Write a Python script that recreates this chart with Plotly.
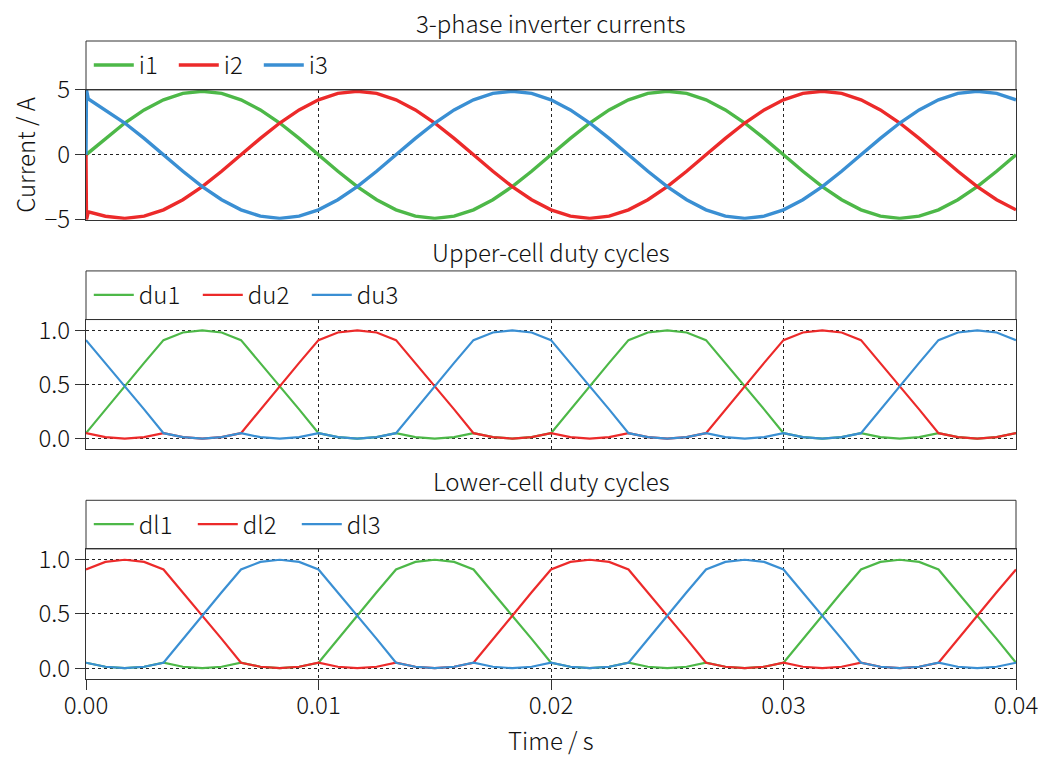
import plotly.graph_objects as go

# ---------------- data ----------------
# duty-cycle sampling grid: 1/1200 s steps over 0 .. 0.04 s
t_duty = [k / 1200 for k in range(49)]

# current samples (first points capture the start-up spike)
t_cur = [0.0, 0.00002, 0.0001] + [k / 1200 for k in range(1, 49)]

i1 = [0.0, 0.03, 0.15,
      1.27, 2.45, 3.46, 4.24, 4.73, 4.9, 4.73, 4.24, 3.46, 2.45, 1.27, 0.0,
      -1.27, -2.45, -3.46, -4.24, -4.73, -4.9, -4.73, -4.24, -3.46, -2.45, -1.27, 0.0,
      1.27, 2.45, 3.46, 4.24, 4.73, 4.9, 4.73, 4.24, 3.46, 2.45, 1.27, 0.0,
      -1.27, -2.45, -3.46, -4.24, -4.73, -4.9, -4.73, -4.24, -3.46, -2.45, -1.27, 0.0]
i2 = [0.0, -5.0, -4.4,
      -4.73, -4.9, -4.73, -4.24, -3.46, -2.45, -1.27, 0.0, 1.27, 2.45, 3.46, 4.24,
      4.73, 4.9, 4.73, 4.24, 3.46, 2.45, 1.27, 0.0, -1.27, -2.45, -3.46, -4.24,
      -4.73, -4.9, -4.73, -4.24, -3.46, -2.45, -1.27, 0.0, 1.27, 2.45, 3.46, 4.24,
      4.73, 4.9, 4.73, 4.24, 3.46, 2.45, 1.27, 0.0, -1.27, -2.45, -3.46, -4.24]
i3 = [0.0, 5.0, 4.3,
      3.46, 2.45, 1.27, 0.0, -1.27, -2.45, -3.46, -4.24, -4.73, -4.9, -4.73, -4.24,
      -3.46, -2.45, -1.27, 0.0, 1.27, 2.45, 3.46, 4.24, 4.73, 4.9, 4.73, 4.24,
      3.46, 2.45, 1.27, 0.0, -1.27, -2.45, -3.46, -4.24, -4.73, -4.9, -4.73, -4.24,
      -3.46, -2.45, -1.27, 0.0, 1.27, 2.45, 3.46, 4.24, 4.73, 4.9, 4.73, 4.24]

du1 = [0.05, 0.27, 0.49, 0.70, 0.91, 0.98, 1.0, 0.98, 0.91, 0.70, 0.49, 0.27,
       0.05, 0.013, 0.0, 0.013, 0.05, 0.013, 0.0, 0.013, 0.05, 0.013, 0.0, 0.013,
       0.05, 0.27, 0.49, 0.70, 0.91, 0.98, 1.0, 0.98, 0.91, 0.70, 0.49, 0.27,
       0.05, 0.013, 0.0, 0.013, 0.05, 0.013, 0.0, 0.013, 0.05, 0.013, 0.0, 0.013,
       0.05]
du2 = [0.05, 0.013, 0.0, 0.013, 0.05, 0.013, 0.0, 0.013, 0.05, 0.27, 0.49, 0.70,
       0.91, 0.98, 1.0, 0.98, 0.91, 0.70, 0.49, 0.27, 0.05, 0.013, 0.0, 0.013,
       0.05, 0.013, 0.0, 0.013, 0.05, 0.013, 0.0, 0.013, 0.05, 0.27, 0.49, 0.70,
       0.91, 0.98, 1.0, 0.98, 0.91, 0.70, 0.49, 0.27, 0.05, 0.013, 0.0, 0.013,
       0.05]
du3 = [0.91, 0.70, 0.49, 0.27, 0.05, 0.013, 0.0, 0.013, 0.05, 0.013, 0.0, 0.013,
       0.05, 0.013, 0.0, 0.013, 0.05, 0.27, 0.49, 0.70, 0.91, 0.98, 1.0, 0.98,
       0.91, 0.70, 0.49, 0.27, 0.05, 0.013, 0.0, 0.013, 0.05, 0.013, 0.0, 0.013,
       0.05, 0.013, 0.0, 0.013, 0.05, 0.27, 0.49, 0.70, 0.91, 0.98, 1.0, 0.98,
       0.91]

dl1 = [0.05, 0.013, 0.0, 0.013, 0.05, 0.013, 0.0, 0.013, 0.05, 0.013, 0.0, 0.013,
       0.05, 0.27, 0.49, 0.70, 0.91, 0.98, 1.0, 0.98, 0.91, 0.70, 0.49, 0.27,
       0.05, 0.013, 0.0, 0.013, 0.05, 0.013, 0.0, 0.013, 0.05, 0.013, 0.0, 0.013,
       0.05, 0.27, 0.49, 0.70, 0.91, 0.98, 1.0, 0.98, 0.91, 0.70, 0.49, 0.27,
       0.05]
dl2 = [0.91, 0.98, 1.0, 0.98, 0.91, 0.70, 0.49, 0.27, 0.05, 0.013, 0.0, 0.013,
       0.05, 0.013, 0.0, 0.013, 0.05, 0.013, 0.0, 0.013, 0.05, 0.27, 0.49, 0.70,
       0.91, 0.98, 1.0, 0.98, 0.91, 0.70, 0.49, 0.27, 0.05, 0.013, 0.0, 0.013,
       0.05, 0.013, 0.0, 0.013, 0.05, 0.013, 0.0, 0.013, 0.05, 0.27, 0.49, 0.70,
       0.91]
dl3 = [0.05, 0.013, 0.0, 0.013, 0.05, 0.27, 0.49, 0.70, 0.91, 0.98, 1.0, 0.98,
       0.91, 0.70, 0.49, 0.27, 0.05, 0.013, 0.0, 0.013, 0.05, 0.013, 0.0, 0.013,
       0.05, 0.013, 0.0, 0.013, 0.05, 0.27, 0.49, 0.70, 0.91, 0.98, 1.0, 0.98,
       0.91, 0.70, 0.49, 0.27, 0.05, 0.013, 0.0, 0.013, 0.05, 0.013, 0.0, 0.013,
       0.05]

panel_titles = ["3-phase inverter currents", "Upper-cell duty cycles", "Lower-cell duty cycles"]
x_title = "Time / s"
y_title = "Current / A"
x_ticks = [0.0, 0.01, 0.02, 0.03, 0.04]
cur_ticks = [-5, 0, 5]
duty_ticks = [0.0, 0.5, 1.0]

# ---------------- styling ----------------
GREEN, RED, BLUE = "#4db848", "#ec2a2a", "#3a8fd3"
FONT = "Noto Sans CJK JP"
FS = 24
WEIGHT = 300
INK = "#111"
FRAME = "#333"

fig = go.Figure()

series = [
    (t_cur, i1, "i1", GREEN, "y", "legend", 3.4),
    (t_cur, i2, "i2", RED, "y", "legend", 3.4),
    (t_cur, i3, "i3", BLUE, "y", "legend", 3.4),
    (t_duty, du1, "du1", GREEN, "y2", "legend2", 2.2),
    (t_duty, du2, "du2", RED, "y2", "legend2", 2.2),
    (t_duty, du3, "du3", BLUE, "y2", "legend2", 2.2),
    (t_duty, dl1, "dl1", GREEN, "y3", "legend3", 2.2),
    (t_duty, dl2, "dl2", RED, "y3", "legend3", 2.2),
    (t_duty, dl3, "dl3", BLUE, "y3", "legend3", 2.2),
]
xref_map = {"y": "x", "y2": "x2", "y3": "x3"}
for tx, vy, name, col, ya, lg, w in series:
    fig.add_trace(go.Scatter(x=tx, y=vy, name=name, mode="lines",
                             line=dict(color=col, width=w),
                             xaxis=xref_map[ya], yaxis=ya, legend=lg))

# (plot bottom, plot top, frame top) in paper fraction
dom = [(0.7199, 0.9233, 1.0), (0.3599, 0.5634, 0.6396), (0.0, 0.2039, 0.2801)]
title_shift = [19, 19, 20]
entry_w = [30, 54, 49]

fnt = dict(family=FONT, size=FS, color=INK, weight=WEIGHT)

axis_common = dict(showline=True, linecolor=FRAME, linewidth=1, mirror=True,
                   showgrid=True, gridcolor="#222", griddash="dot", gridwidth=1,
                   zeroline=False, automargin=False, tickfont=fnt)

layout = dict(
    width=1046, height=757,
    margin=dict(l=78, r=38, t=33, b=86),
    paper_bgcolor="white", plot_bgcolor="white",
    font=fnt,
    showlegend=True,
)

for idx, (b, tp, ftop) in enumerate(dom):
    n = "" if idx == 0 else str(idx + 1)
    xa = dict(axis_common, domain=[0, 1], range=[0, 0.04], tickvals=x_ticks,
              anchor="y" + n)
    if idx < 2:
        xa.update(showticklabels=False, ticks="")
    else:
        xa.update(ticks="outside", ticklen=10, tickcolor=FRAME, tickformat=".2f")
    if idx > 0:
        xa["matches"] = "x"
    layout["xaxis" + n] = xa
    if idx == 0:
        ya = dict(axis_common, domain=[b, tp], range=[-5, 5], tickvals=cur_ticks,
                  ticks="outside", ticklen=10, tickcolor=FRAME)
    else:
        ya = dict(axis_common, domain=[b, tp], range=[-0.1, 1.1], tickvals=duty_ticks,
                  tickformat=".1f", ticks="outside", ticklen=10, tickcolor=FRAME)
    ya["anchor"] = "x" + n
    layout["yaxis" + n] = ya

    # legend strip frame
    fig.add_shape(type="rect", xref="paper", yref="paper", x0=0, x1=1, y0=tp, y1=ftop,
                  line=dict(color=FRAME, width=1), fillcolor="rgba(0,0,0,0)", layer="above")
    # legend
    lg_key = "legend" if idx == 0 else "legend" + str(idx + 1)
    layout[lg_key] = dict(x=0.003, xanchor="left", y=(tp + ftop) / 2, yanchor="middle",
                          orientation="h", bgcolor="rgba(0,0,0,0)",
                          font=fnt,
                          itemwidth=40, entrywidth=entry_w[idx], entrywidthmode="pixels",
                          tracegroupgap=0)
    # panel title
    fig.add_annotation(text=panel_titles[idx], xref="paper", yref="paper",
                       x=0.5, y=ftop, yanchor="middle", xanchor="center",
                       showarrow=False, yshift=title_shift[idx], font=fnt, borderpad=0)

# axis titles as annotations (precise placement)
fig.add_annotation(text=x_title, xref="paper", yref="paper", x=0.5, y=0,
                   xanchor="center", yanchor="middle", yshift=-60,
                   showarrow=False, font=fnt, borderpad=0)
fig.add_annotation(text=y_title, xref="paper", yref="paper", x=0,
                   y=(dom[0][0] + dom[0][1]) / 2, textangle=-90,
                   xanchor="center", yanchor="middle", xshift=-61,
                   showarrow=False, font=fnt, borderpad=0)

fig.update_layout(**layout)
try:
    fig.update_layout(xaxis3=dict(ticklabelstandoff=-5))
except Exception:
    pass
fig.write_html("out.html")
